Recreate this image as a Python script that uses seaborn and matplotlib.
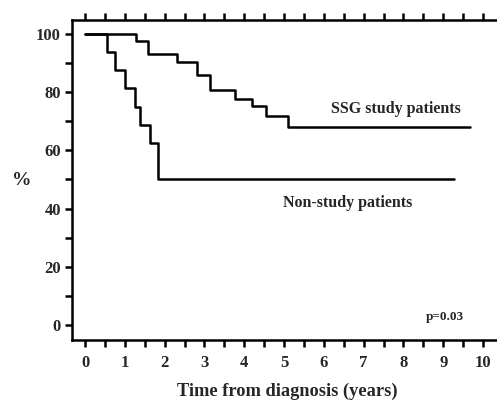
import matplotlib
matplotlib.use("Agg")
import matplotlib.pyplot as plt
import seaborn as sns
import pandas as pd
import numpy as np

# Data (Kaplan-Meier style step curves)
ssg_time = [0.0, 1.27, 1.59, 2.30, 2.80, 3.14, 3.77, 4.19, 4.55, 5.11, 9.67]
ssg_pct = [100.0, 97.5, 93.2, 90.5, 86.0, 80.6, 77.6, 75.1, 71.9, 68.0, 68.0]
non_time = [0.0, 0.545, 0.75, 1.0, 1.26, 1.38, 1.63, 1.82, 9.28]
non_pct = [100.0, 93.8, 87.5, 81.3, 75.0, 68.8, 62.5, 50.0, 50.0]

x_ticklabels = [str(i) for i in range(11)]
y_ticklabels = ["0", "20", "40", "60", "80", "100"]

df = pd.concat([
    pd.DataFrame({"time": ssg_time, "pct": ssg_pct, "group": "SSG study patients"}),
    pd.DataFrame({"time": non_time, "pct": non_pct, "group": "Non-study patients"}),
], ignore_index=True)

sns.set_style("ticks")
plt.rcParams["font.family"] = ["Liberation Serif", "DejaVu Serif"]
plt.rcParams["font.weight"] = "bold"

fig = plt.figure(figsize=(4.97, 4.01), dpi=100)
ax = fig.add_axes([0.145, 0.152, 0.867, 0.798])

sns.lineplot(data=df, x="time", y="pct", hue="group", units="group", estimator=None,
             palette={"SSG study patients": "black", "Non-study patients": "black"},
             drawstyle="steps-post", linewidth=1.8, legend=False, ax=ax, sort=False)

ax.set_xlim(-0.327, 10.5)
ax.set_ylim(-5.2, 104.8)

ax.set_xticks(np.arange(0, 11, 1))
ax.set_xticklabels(x_ticklabels, fontsize=12, fontweight="bold")
ax.set_xticks(np.arange(0.5, 10.6, 1), minor=True)
ax.set_yticks([0, 20, 40, 60, 80, 100])
ax.set_yticklabels(y_ticklabels, fontsize=12, fontweight="bold")
ax.set_yticks(np.arange(10, 100, 20), minor=True)

ax.tick_params(axis="both", which="both", direction="out", length=5, width=1.8, color="black")
ax.tick_params(axis="x", which="both", top=True, bottom=True, pad=6)
ax.tick_params(axis="y", which="both", pad=3)

for s in ["left", "top", "bottom"]:
    ax.spines[s].set_linewidth(1.8)
    ax.spines[s].set_color("black")
ax.spines["right"].set_visible(False)

ax.set_xlabel("Time from diagnosis (years)", fontsize=13.2, fontweight="bold", labelpad=8)
ax.set_ylabel("%", fontsize=14, fontweight="bold", rotation=0, labelpad=10, va="center")

ax.text(7.82, 74.3, "SSG study patients", fontsize=11.5, fontweight="bold", ha="center", va="center")
ax.text(6.6, 41.8, "Non-study patients", fontsize=11.5, fontweight="bold", ha="center", va="center")
ax.text(9.05, 2.7, "p=0.03", fontsize=9.5, fontweight="bold", ha="center", va="center")

fig.savefig("out.png", dpi=100)
